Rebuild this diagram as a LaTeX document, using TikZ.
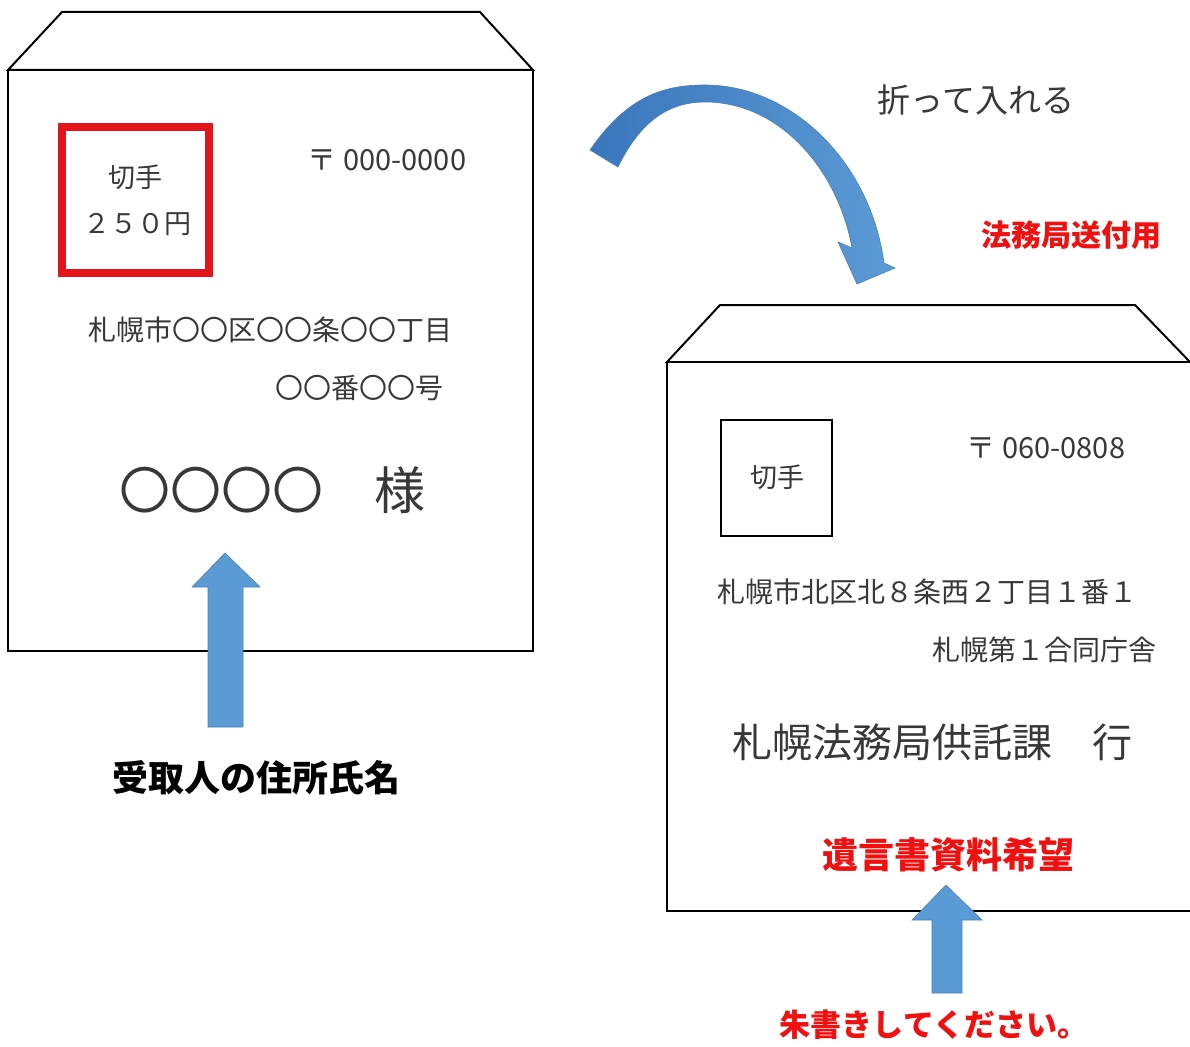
\documentclass[tikz,border=0pt]{standalone}
\usepackage{fontspec}
\setmainfont{Noto Sans CJK JP}
\newfontfamily\jp{Noto Sans CJK JP}
\definecolor{arrowblue}{HTML}{5B9BD5}
\definecolor{arrowdark}{HTML}{3A76BC}
\definecolor{arrowedge}{HTML}{4A7FB5}
\definecolor{stampred}{HTML}{E3141C}
\definecolor{labred}{HTML}{F01010}
\definecolor{txtgray}{HTML}{383838}
\begin{document}
\begin{tikzpicture}[x=1pt,y=-1pt,
  env/.style={draw=black, line width=2pt, fill=white, line join=miter},
  blk/.style={fill=arrowblue, draw=arrowedge, line width=0.6pt},
  txt/.style={text=txtgray, inner sep=0pt, font=\jp\fontsize{#1}{#1}\selectfont},
  redlab/.style={text=labred, inner sep=0pt, font=\jp\bfseries\fontsize{#1}{#1}\selectfont},
  blacklab/.style={text=black, inner sep=0pt, font=\jp\bfseries\fontsize{#1}{#1}\selectfont}
]
\useasboundingbox (0,0) rectangle (1190,1046);
\fill[white] (0,0) rectangle (1190,1046);

% left envelope
\draw[env] (8,70) -- (62,12) -- (480,12) -- (533,70) -- cycle;
\draw[env] (8,70) rectangle (533,651);
\draw[draw=stampred, line width=7.5pt] (62,127) rectangle (209,273);
\node[txt=27] (k1) at (135,177) {切手};
\node[txt=27] (k2) at (137,224) {２５０円};
\node[txt=29] (zip1) at (387,160) {〒 000-0000};
\node[txt=28] (addr1) at (270,330) {札幌市〇〇区〇〇条〇〇丁目};
\node[txt=28] (addr2) at (359,388) {〇〇番〇〇号};
\node[txt=51] (name1) at (272,490) {〇〇〇〇　様};
\node[blacklab=36] (lab1) at (256,778) {受取人の住所氏名};

% right envelope
\draw[env] (667,362) -- (720,305) -- (1135,305) -- (1190,362) -- cycle;
\draw[env] (667,362) rectangle (1194,911);
\draw[line width=1.5pt] (721,420) rectangle (832,536);
\node[txt=27] (k3) at (777,477) {切手};
\node[txt=29] (zip2) at (1046,448) {〒 060-0808};
\node[txt=28] (addr3) at (927,592) {札幌市北区北８条西２丁目１番１};
\node[txt=28] (addr4) at (1044,650) {札幌第１合同庁舎};
\node[txt=40] (dest) at (932,742) {札幌法務局供託課　行};
\node[redlab=36] (red1) at (948,855) {遺言書資料希望};
\node[redlab=31] (red2) at (934,1025) {朱書きしてください。};
\node[txt=33] (fold) at (976,100) {折って入れる};
\node[redlab=30] (red3) at (1071,235) {法務局送付用};

% up arrows
\path[blk] (208,727) -- (208,587) -- (192,587) -- (225,553) -- (260,587) -- (243,587) -- (243,727) -- cycle;
\path[blk] (932,993) -- (932,920) -- (912,920) -- (946,885) -- (982,920) -- (962,920) -- (962,993) -- cycle;

% curved arrow
\path[draw=arrowedge, line width=0.6pt, left color=arrowdark, right color=arrowblue]
  (590,150) .. controls (628,95) and (665,85) .. (705,85)
  .. controls (790,85) and (870,160) .. (884,263)
  -- (895,268) -- (857,284) -- (838,242) -- (852,248)
  .. controls (838,170) and (780,102) .. (705,102)
  .. controls (668,102) and (640,122) .. (618,167) -- cycle;
\end{tikzpicture}
\end{document}
